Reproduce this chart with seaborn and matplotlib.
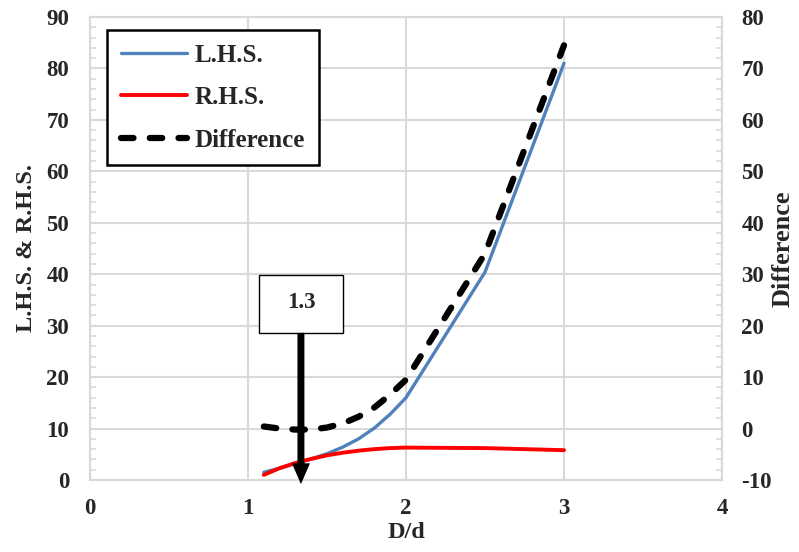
import matplotlib
matplotlib.use("Agg")
import matplotlib.pyplot as plt
from matplotlib.patches import Rectangle
from matplotlib.ticker import MultipleLocator
import seaborn as sns
import pandas as pd

# ---- data ----
dd = [1.1, 1.2, 1.3, 1.4, 1.5, 1.6, 1.7, 1.8, 1.9, 2.0, 2.5, 3.0]
lhs = [1.5, 2.3, 3.2, 4.1, 5.1, 6.4, 8.0, 10.1, 12.8, 16.0, 40.4, 81.0]
rhs = [1.0, 2.3, 3.3, 4.1, 4.8, 5.3, 5.7, 6.0, 6.2, 6.3, 6.2, 5.8]
diff = [0.4, 0.0, -0.2, -0.2, 0.2, 1.0, 2.3, 4.1, 6.6, 9.5, 34.0, 74.5]
marker_value = 1.335
marker_label = "1.3"

df = pd.DataFrame({"D/d": dd, "L.H.S.": lhs, "R.H.S.": rhs, "Difference": diff})

sns.set_style("white")
plt.rcParams["font.family"] = ["Liberation Serif", "DejaVu Serif"]
plt.rcParams["font.weight"] = "bold"
plt.rcParams["axes.unicode_minus"] = False
FS = 16.5

fig = plt.figure(figsize=(7.99, 5.52), dpi=100)
ax = fig.add_axes([90 / 799, 72 / 552, 632 / 799, 463 / 552])
ax2 = ax.twinx()

grid_c = "#d9d9d9"
sns.lineplot(data=df, x="D/d", y="L.H.S.", ax=ax, color="#4f81bd", lw=2.4, label="L.H.S.", legend=False)
sns.lineplot(data=df, x="D/d", y="R.H.S.", ax=ax, color="#ff0000", lw=2.8, label="R.H.S.", legend=False)
sns.lineplot(data=df, x="D/d", y="Difference", ax=ax2, color="black", lw=4.5,
             label="Difference", legend=False)
dl = ax2.lines[0]
dl.set_dashes((2.0, 2.6))
dl.set_dash_capstyle("round")

ax.set_xlim(0, 4)
ax.set_ylim(0, 90)
ax2.set_ylim(-10, 80)

ax.xaxis.set_major_locator(MultipleLocator(1))
ax.xaxis.set_minor_locator(MultipleLocator(0.2))
ax.yaxis.set_major_locator(MultipleLocator(10))
ax.yaxis.set_minor_locator(MultipleLocator(2))
ax2.yaxis.set_major_locator(MultipleLocator(10))
ax2.yaxis.set_minor_locator(MultipleLocator(2))

ax.grid(True, which="major", color=grid_c, lw=1.5)
ax.set_axisbelow(True)
for a in (ax, ax2):
    for s in a.spines.values():
        s.set_color(grid_c)
        s.set_linewidth(1.5)
    a.tick_params(which="both", direction="in", color=grid_c, width=1.2, labelsize=FS)
    a.tick_params(which="major", length=0)
    a.tick_params(which="minor", length=4)
ax.tick_params(axis="y", pad=15)
ax.tick_params(axis="x", pad=13)
ax2.tick_params(axis="y", pad=14)
ax.tick_params(axis="y", which="both", right=False)
ax.tick_params(axis="x", which="both", top=False)
ax2.tick_params(axis="y", which="both", left=False)

for lab in ax.get_xticklabels() + ax.get_yticklabels() + ax2.get_yticklabels():
    lab.set_fontweight("bold")

ax.set_xlabel("D/d", fontsize=17.5, fontweight="bold", labelpad=2)
ax.set_ylabel("L.H.S. & R.H.S.", fontsize=17.5, fontweight="bold", labelpad=7)
ax2.set_ylabel("Difference", fontsize=19, fontweight="bold", labelpad=0)

# annotation box + arrow (drawn on the top axes, in its units)
ax2.add_patch(Rectangle((1.07, 18.6), 0.53, 11.3, facecolor="white", edgecolor="black",
                        lw=1.0, zorder=6))
ax2.text(marker_value, 24.6, marker_label, ha="center", va="center", fontsize=16.5,
         fontweight="bold", zorder=7)
ax2.annotate("", xy=(marker_value, -10.8), xytext=(marker_value, 18.6),
             arrowprops=dict(width=5, headwidth=13, headlength=15, facecolor="black",
                             edgecolor="black", lw=0, shrink=0),
             annotation_clip=False, zorder=8)

h1, l1 = ax.get_legend_handles_labels()
h2, lb2 = ax2.get_legend_handles_labels()
leg = ax2.legend(h1 + h2, l1 + lb2, loc="upper left", bbox_to_anchor=(0.027, 0.972),
                 borderaxespad=0, fancybox=False, edgecolor="black", framealpha=1,
                 fontsize=18, handlelength=2.65, handletextpad=0.3, labelspacing=0.78,
                 borderpad=0.55)
leg.get_frame().set_linewidth(1.8)
for t in leg.get_texts():
    t.set_fontweight("bold")

fig.savefig("out.png", dpi=100)
